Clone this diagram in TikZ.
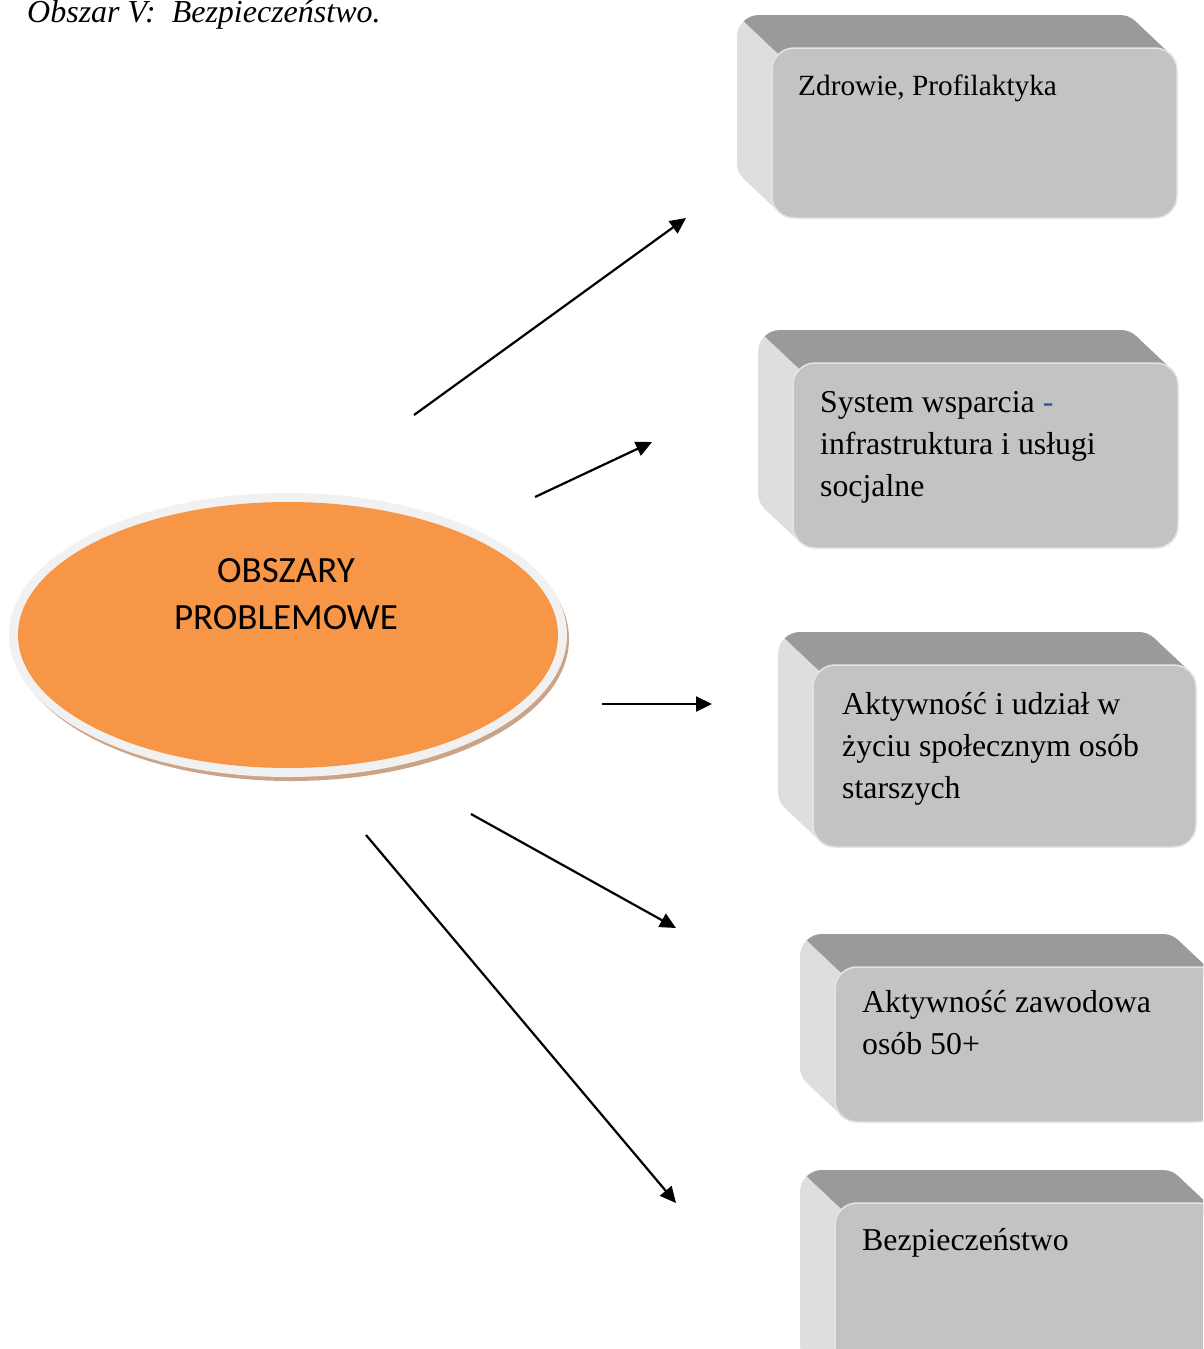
\documentclass[tikz,border=0pt]{standalone}
\usepackage{fontspec}
\setmainfont{Liberation Serif}
\newfontfamily\calib{Carlito}
\usetikzlibrary{arrows.meta,shapes.geometric}
\definecolor{topface}{HTML}{9A9A9A}
\definecolor{sideface}{HTML}{DEDEDE}
\definecolor{frontface}{HTML}{C3C3C3}
\definecolor{frontedge}{HTML}{E4E4E4}
\definecolor{orangefill}{HTML}{F79646}
\definecolor{rimcol}{HTML}{F1F1F1}
\definecolor{shadowcol}{HTML}{CBA386}
\definecolor{dashblue}{HTML}{2F5597}
\newcommand\hullfill[5]{%
  \fill[#1, rounded corners=22pt] ({#2-35},{#3-33}) rectangle ({#4-35},{#5-33});
  \fill[#1] ({#4-6.44},{#3+6.44}) -- ({#4-6.44-35},{#3+6.44-33}) -- ({#2+6.44-35},{#5-6.44-33}) -- ({#2+6.44},{#5-6.44}) -- cycle;
}
\newcommand\extrbox[4]{%
  \begin{scope}
    \clip ({#1+6.44-700},{#2+6.44-660}) -- ({#1+6.44+1050},{#2+6.44+990}) -- ({#1+6.44+2050},{#2+6.44-10}) -- ({#1+6.44+300},{#2+6.44-1660}) -- cycle;
    \hullfill{topface}{#1}{#2}{#3}{#4}
  \end{scope}
  \begin{scope}
    \clip ({#1+6.44-700},{#2+6.44-660}) -- ({#1+6.44+1050},{#2+6.44+990}) -- ({#1+6.44+50},{#2+6.44+1990}) -- ({#1+6.44-1700},{#2+6.44+340}) -- cycle;
    \hullfill{sideface}{#1}{#2}{#3}{#4}
  \end{scope}
  \fill[frontface, draw=frontedge, line width=1.5pt, rounded corners=22pt] (#1,#2) rectangle (#3,#4);
}
\tikzset{
  boxtext/.style={anchor=base west, inner sep=0pt, font=\fontsize{31.8}{42}\selectfont},
  arrowline/.style={line width=2.2pt, -{Triangle[length=16pt,width=15pt]}},
}
\begin{document}
\begin{tikzpicture}[x=1pt,y=-1pt]
\useasboundingbox (0,0) rectangle (1203,1349);
\clip (0,0) rectangle (1203,1349);
\fill[white] (0,0) rectangle (1203,1349);

% title
\node[anchor=base west, inner sep=0pt, font=\fontsize{32}{36}\selectfont\itshape] (title) at (27,22) {Obszar V:\ \ Bezpieczeństwo.};

% central ellipse
\fill[shadowcol] (291,639) ellipse [x radius=278, y radius=142];
\fill[rimcol] (288,635) ellipse [x radius=279, y radius=142];
\node[ellipse, fill=orangefill, minimum width=540pt, minimum height=266pt, inner sep=0pt] (core) at (288,635) {};
\node[anchor=base, inner sep=0pt, align=center, font=\calib\fontsize{37}{47}\selectfont] (coretext) at (286,629) {OBSZARY\\PROBLEMOWE};

% boxes
\extrbox{772}{48}{1177}{218}
\node[boxtext, font=\fontsize{29.3}{42}\selectfont] (b1) at (798,95) {Zdrowie, Profilaktyka};

\extrbox{793}{363}{1178}{548}
\node[boxtext] (b2) at (820,412) {\parbox[t]{360pt}{\raggedright System wsparcia {\color{dashblue}-}\\infrastruktura i usługi\\socjalne}};

\extrbox{813}{665}{1196}{847}
\node[boxtext] (b3) at (842,714) {\parbox[t]{360pt}{\raggedright Aktywność i udział w\\życiu społecznym osób\\starszych}};

\extrbox{835}{967}{1220}{1122}
\node[boxtext] (b4) at (862,1012) {\parbox[t]{360pt}{\raggedright Aktywność zawodowa\\osób 50+}};

\extrbox{835}{1203}{1220}{1400}
\node[boxtext] (b5) at (862,1250) {Bezpieczeństwo};

% arrows
\coordinate (s1) at (414,415); \coordinate (e1) at (686,218);
\coordinate (s2) at (535,497); \coordinate (e2) at (652,442);
\coordinate (s3) at (602,704); \coordinate (e3) at (712,704);
\coordinate (s4) at (471,814); \coordinate (e4) at (676,928);
\coordinate (s5) at (366,835); \coordinate (e5) at (676,1203);
\draw[arrowline] (s1) -- (e1);
\draw[arrowline] (s2) -- (e2);
\draw[arrowline] (s3) -- (e3);
\draw[arrowline] (s4) -- (e4);
\draw[arrowline] (s5) -- (e5);
\end{tikzpicture}
\end{document}
